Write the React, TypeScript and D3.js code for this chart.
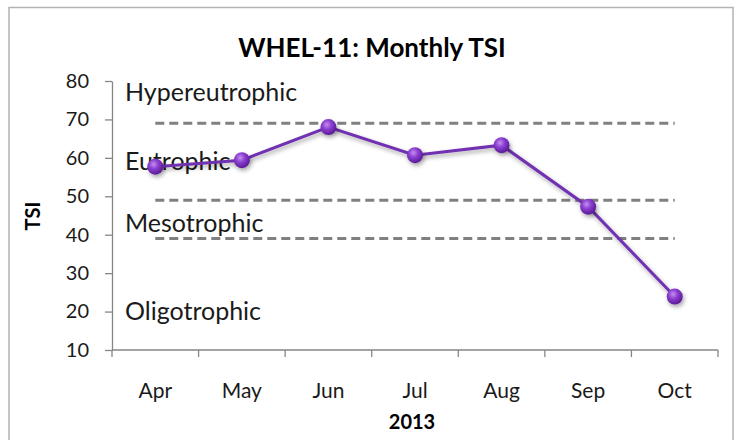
import { useEffect, useMemo, useRef } from "react";
import * as d3 from "d3";

const WIDTH = 743;
const HEIGHT = 440;
const PLOT = { left: 112, right: 718, top: 81, bottom: 350 };

const months = ["Apr", "May", "Jun", "Jul", "Aug", "Sep", "Oct"];
const tsi = [57.7, 59.4, 68.0, 60.7, 63.3, 47.3, 23.9];
const yTicks = [10, 20, 30, 40, 50, 60, 70, 80];
const thresholds = [69, 49, 39];
const zoneLabels = ["Hypereutrophic", "Eutrophic", "Mesotrophic", "Oligotrophic"];
const zoneLabelAt = [74.8, 56.8, 40.8, 17.8];

const FONT = "Lato, 'Open Sans', sans-serif";

export default function App() {
  const yAxisRef = useRef<SVGGElement>(null);

  const xScale = useMemo(
    () => d3.scaleBand().domain(months).range([PLOT.left, PLOT.right]).padding(0),
    []
  );
  const yScale = useMemo(
    () => d3.scaleLinear().domain([10, 80]).range([PLOT.bottom, PLOT.top]),
    []
  );
  const cx = (m: string) => (xScale(m) ?? 0) + xScale.bandwidth() / 2;

  // y axis via d3
  useEffect(() => {
    const g = d3.select(yAxisRef.current);
    g.selectAll("*").remove();
    g.call(d3.axisLeft(yScale).tickValues(yTicks).tickSize(7).tickSizeOuter(0).tickPadding(16));
    g.select(".domain").attr("stroke", "#868686").attr("stroke-width", 1.3);
    g.selectAll(".tick line").attr("stroke", "#868686").attr("stroke-width", 1.3);
    g.selectAll(".tick text")
      .attr("fill", "#1a1a1a")
      .style("font-size", "20px")
      .style("font-family", FONT);
  }, [yScale]);

  const line = d3
    .line<number>()
    .x((_, i) => cx(months[i]))
    .y((d) => yScale(d));

  const edges = [...months.map((m) => xScale(m) ?? 0), PLOT.right];
  const first = cx(months[0]);
  const last = cx(months[months.length - 1]);

  return (
    <svg
      width={WIDTH}
      height={HEIGHT}
      style={{ position: "absolute", left: 0, top: 0, background: "#fff" }}
    >
      <defs>
        <radialGradient id="ball" cx="40%" cy="35%" r="65%">
          <stop offset="0%" stopColor="#c58ef0" />
          <stop offset="45%" stopColor="#8a3fd0" />
          <stop offset="100%" stopColor="#5a1a96" />
        </radialGradient>
        <filter id="shadow" x="-50%" y="-50%" width="200%" height="200%">
          <feDropShadow dx="1.5" dy="2.5" stdDeviation="2" floodColor="#000" floodOpacity="0.35" />
        </filter>
      </defs>
      <rect x={9} y={7.5} width={724} height={440} fill="#fff" stroke="#b3b3b3" strokeWidth={1.5} />

      <text
        x={372}
        y={57}
        textAnchor="middle"
        fontFamily={FONT}
        fontWeight="bold"
        fontSize={26}
        fill="#000"
      >
        WHEL-11: Monthly TSI
      </text>

      {thresholds.map((t) => (
        <line
          key={t}
          x1={first}
          x2={last}
          y1={yScale(t)}
          y2={yScale(t)}
          stroke="#808080"
          strokeWidth={3}
          strokeDasharray="9 5"
        />
      ))}

      {zoneLabels.map((lab, i) => (
        <text
          key={lab}
          x={125}
          y={yScale(zoneLabelAt[i])}
          fontFamily={FONT}
          fontSize={25}
          fill="#1a1a1a"
        >
          {lab}
        </text>
      ))}

      <g ref={yAxisRef} transform={`translate(${PLOT.left},0)`} />
      <line x1={PLOT.left} x2={PLOT.right} y1={PLOT.bottom} y2={PLOT.bottom} stroke="#868686" strokeWidth={1.3} />
      {edges.map((x, i) => (
        <line key={i} x1={x} x2={x} y1={PLOT.bottom} y2={PLOT.bottom + 7} stroke="#868686" strokeWidth={1.3} />
      ))}
      {months.map((m) => (
        <text
          key={m}
          x={cx(m)}
          y={398}
          textAnchor="middle"
          fontFamily={FONT}
          fontSize={21}
          fill="#1a1a1a"
        >
          {m}
        </text>
      ))}

      <text x={412} y={429} textAnchor="middle" fontFamily={FONT} fontWeight="bold" fontSize={20}>
        2013
      </text>
      <text
        transform={`translate(40, 216) rotate(-90)`}
        textAnchor="middle"
        fontFamily={FONT}
        fontWeight="bold"
        fontSize={20}
      >
        TSI
      </text>

      <path d={line(tsi) ?? ""} fill="none" stroke="#7030b0" strokeWidth={3} filter="url(#shadow)" />
      {tsi.map((v, i) => (
        <circle
          key={months[i]}
          cx={cx(months[i])}
          cy={yScale(v)}
          r={8}
          fill="url(#ball)"
          filter="url(#shadow)"
        />
      ))}
    </svg>
  );
}
